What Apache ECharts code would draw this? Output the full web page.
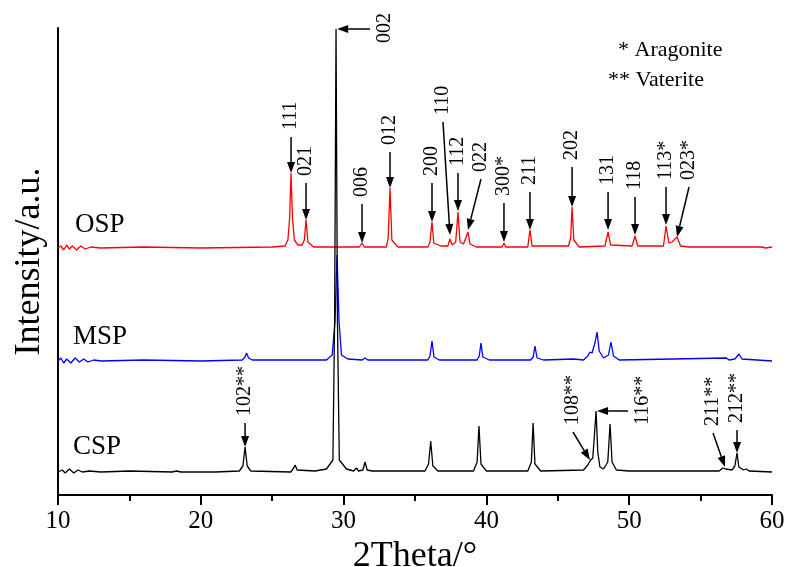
<!DOCTYPE html>
<html>
<head>
<meta charset="utf-8">
<script src="https://cdn.jsdelivr.net/npm/echarts@6/dist/echarts.min.js"></script>
<style>
html, body { margin: 0; padding: 0; background: #fff; }
#chart { width: 787px; height: 567px; }
</style>
</head>
<body>
<div id="chart"></div>
<script>
// x axis ticks
var xTicks = [10, 20, 30, 40, 50, 60];

// patterns as [2theta, intensity above own baseline]
var ospPoints = [[10,0],[10.2,2],[10.4,-2],[10.6,3],[10.8,-1],[11.0,2],[11.3,-2],[11.6,2],[11.9,-1],[12.3,1],[13,0],[16,1],[20,0],[25,1],
	[25.9,2],[26.1,8],[26.22,30],[26.32,75],[26.42,30],[26.55,8],[26.8,3],[27.1,3],[27.25,8],[27.37,28],[27.5,6],[27.9,1],[31.1,1],[31.29,5],[31.45,1],
	[33,1],[33.12,10],[33.25,60],[33.38,8],[33.8,1],[35.9,1],[36.05,6],[36.19,26],[36.32,5],[36.8,2],[37.3,2],[37.45,9],[37.6,3],
	[37.85,6],[38.01,36],[38.15,6],[38.4,4],[38.71,16],[38.85,4],[39.3,1],[41.1,1],[41.23,5],[41.35,1],[42.9,1],[43.05,18],[43.2,2],
	[45.75,2],[45.9,10],[46.0,41],[46.12,8],[46.5,1],[48.3,2],[48.52,16],[48.7,3],[50.2,2],[50.41,12],[50.6,2],[52.4,2],[52.58,22],
	[52.78,5],[53.0,6],[53.35,11],[53.6,2],[54.2,1],[58,1],[59.3,1],[59.4,3],[59.55,0],[60,1]];
var mspPoints = [[10,0],[10.2,3],[10.4,-2],[10.6,2],[10.9,-2],[11.2,3],[11.5,-1],[11.8,2],[12.1,-1],[12.5,1],[13,0],[16,1],[20,0],
	[22.9,1],[23.1,4],[23.2,8],[23.35,3],[23.6,1],[26.5,1],[26.6,3],[26.7,1],[28.8,1],[29.2,6],[29.4,40],[29.54,106],[29.68,40],
	[29.85,6],[30.3,2],[31.3,1],[31.5,3],[31.7,1],[35.9,1],[36.05,5],[36.19,20],[36.33,4],[36.7,1],[39.35,1],[39.5,5],[39.62,18],
	[39.75,4],[40.2,1],[43.1,1],[43.28,4],[43.4,15],[43.55,3],[44,1],[46.1,2],[46.8,1],[47.1,5],[47.25,9],[47.4,8],[47.6,18],
	[47.75,29],[47.9,10],[48.2,3],[48.55,6],[48.72,19],[48.9,5],[49.3,1],[56.8,3],[57.0,1],[57.4,2],[57.69,7],[57.9,2],[60,0]];
var cspPoints = [[10,0],[10.3,2],[10.5,-1],[10.8,3],[11.1,-1],[11.4,2],[11.7,0],[12.2,1],[13,0],[15,1],[18,0],[18.3,1],[18.6,0],
	[21,0],[22.7,1],[22.95,6],[23.1,25],[23.25,6],[23.5,1],[26.3,0],[26.5,4],[26.6,7],[26.75,2],[28,1],[28.8,3],[29.25,12],[29.37,150],
	[29.47,443],[29.57,150],[29.7,12],[30.2,3],[30.7,1],[30.9,4],[31.05,1],[31.35,2],[31.5,10],[31.65,2],[32,1],[35.7,1],[35.95,8],
	[36.1,31],[36.25,6],[36.6,1],[39.1,1],[39.35,10],[39.48,46],[39.62,8],[40,1],[41.1,1],[41.2,3],[41.3,1],[42.9,1],[43.15,10],
	[43.27,49],[43.4,8],[43.8,1],[46.8,2],[47.1,7],[47.3,12],[47.45,14],[47.58,40],[47.68,61],[47.8,20],[47.95,5],[48.2,3],[48.5,10],
	[48.66,48],[48.8,10],[49.1,2],[50,1],[55,1],[56.3,1],[56.55,4],[56.64,6],[56.75,3],[57.2,2],[57.4,6],[57.55,19],[57.68,5],
	[58,2],[58.2,3],[58.4,1],[60,0]];

// vertical offsets of the stacked patterns
var ospOffset = 247;
var mspOffset = 134;
var cspOffset = 23;

// peak index labels and their arrows: [tip 2theta, tip value, tail 2theta, tail value]
var peakLabels = ['111', '021', '002', '006', '012', '200', '110', '112', '022', '300*', '211', '202', '131', '118',
	'113*', '023*', '102**', '108**', '116**', '211**', '212**'];
var peakArrows = [
	[26.32, 322, 26.32, 358], [27.37, 275, 27.37, 312], [29.55, 466, 31.85, 466], [31.29, 252, 31.29, 291],
	[33.25, 307, 33.25, 343], [36.19, 273, 36.19, 312], [37.45, 260, 36.96, 373], [38.01, 284, 38.01, 322],
	[38.71, 265, 39.62, 316], [41.23, 253, 41.23, 292], [43.05, 265, 43.05, 303], [46.0, 288, 46.0, 328],
	[48.52, 265, 48.52, 303], [50.41, 260, 50.41, 298], [52.58, 270, 52.58, 308], [53.35, 258, 54.19, 308],
	[23.1, 48, 23.1, 72], [47.25, 35, 46.06, 63], [47.75, 84, 49.92, 84], [56.71, 28, 55.87, 62], [57.55, 42, 57.55, 65]
];

var serif = '"Liberation Serif", "Times New Roman", serif';

function shift(points, off) {
	return points.map(function (p) { return [p[0], p[1] + off]; });
}

function drawArrow(params, api) {
	var tip = api.coord([api.value(0), api.value(1)]);
	var tail = api.coord([api.value(2), api.value(3)]);
	var dx = tip[0] - tail[0], dy = tip[1] - tail[1];
	var len = Math.sqrt(dx * dx + dy * dy);
	var ux = dx / len, uy = dy / len;
	var hl = 11, hw = 4;
	var bx = tip[0] - ux * hl, by = tip[1] - uy * hl;
	var tx, ty;
	if (Math.abs(dy) < 1) {
		// horizontal arrow, label to the right
		tx = tail[0] + 15;
		ty = tail[1] + 14;
	} else {
		tx = tail[0];
		ty = tail[1] - 7;
	}
	return {
		type: 'group',
		children: [
			{ type: 'line', shape: { x1: tail[0], y1: tail[1], x2: bx, y2: by }, style: { stroke: '#000', lineWidth: 1.5 } },
			{ type: 'polygon', shape: { points: [[tip[0], tip[1]], [bx - uy * hw, by + ux * hw], [bx + uy * hw, by - ux * hw]] }, style: { fill: '#000' } },
			{ type: 'text', x: tx, y: ty, rotation: Math.PI / 2,
				style: { text: peakLabels[params.dataIndex], font: '20px ' + serif, fill: '#000', align: 'left', verticalAlign: 'middle' } }
		]
	};
}

var myChart = echarts.init(document.getElementById('chart'));
var option = {
	animation: false,
	backgroundColor: '#fff',
	grid: { left: 58, right: 15, top: 28, bottom: 72, outerBoundsMode: 'none' },
	xAxis: {
		type: 'value',
		min: xTicks[0],
		max: xTicks[xTicks.length - 1],
		interval: 10,
		name: '2Theta/°',
		nameLocation: 'middle',
		nameGap: 36,
		nameTextStyle: { fontFamily: serif, fontSize: 36, color: '#000' },
		axisLine: { lineStyle: { color: '#000', width: 2 } },
		axisTick: { inside: false, length: 10, lineStyle: { width: 2, color: '#000' } },
		minorTick: { show: true, splitNumber: 2, length: 6, lineStyle: { width: 2, color: '#000' } },
		axisLabel: { fontFamily: serif, fontSize: 25, color: '#000', margin: 14 },
		splitLine: { show: false }
	},
	yAxis: {
		type: 'value',
		min: 0,
		max: 467,
		name: 'Intensity/a.u.',
		nameLocation: 'middle',
		nameGap: 10,
		nameTextStyle: { fontFamily: serif, fontSize: 36, color: '#000' },
		axisLine: { show: true, lineStyle: { color: '#000', width: 2 } },
		axisTick: { show: false },
		axisLabel: { show: false },
		splitLine: { show: false }
	},
	graphic: [
		{ type: 'text', x: 75, y: 225, style: { text: 'OSP', font: '27px ' + serif, fill: '#000', verticalAlign: 'middle' } },
		{ type: 'text', x: 73, y: 337, style: { text: 'MSP', font: '27px ' + serif, fill: '#000', verticalAlign: 'middle' } },
		{ type: 'text', x: 73, y: 447, style: { text: 'CSP', font: '27px ' + serif, fill: '#000', verticalAlign: 'middle' } },
		{ type: 'text', x: 618, y: 50, style: { text: '* Aragonite', font: '22px ' + serif, fill: '#000', verticalAlign: 'middle' } },
		{ type: 'text', x: 608, y: 80, style: { text: '** Vaterite', font: '22px ' + serif, fill: '#000', verticalAlign: 'middle' } }
	],
	series: [
		{ name: 'OSP', type: 'line', data: shift(ospPoints, ospOffset), showSymbol: false, lineStyle: { color: '#ff0000', width: 1.3 }, z: 2 },
		{ name: 'MSP', type: 'line', data: shift(mspPoints, mspOffset), showSymbol: false, lineStyle: { color: '#0000ff', width: 1.3 }, z: 3 },
		{ name: 'CSP', type: 'line', data: shift(cspPoints, cspOffset), showSymbol: false, lineStyle: { color: '#000000', width: 1.3 }, z: 4 },
		{ name: 'peaks', type: 'custom', data: peakArrows, renderItem: drawArrow, encode: { x: [0, 2], y: [1, 3] }, z: 5, silent: true }
	]
};
myChart.setOption(option);
</script>
</body>
</html>
